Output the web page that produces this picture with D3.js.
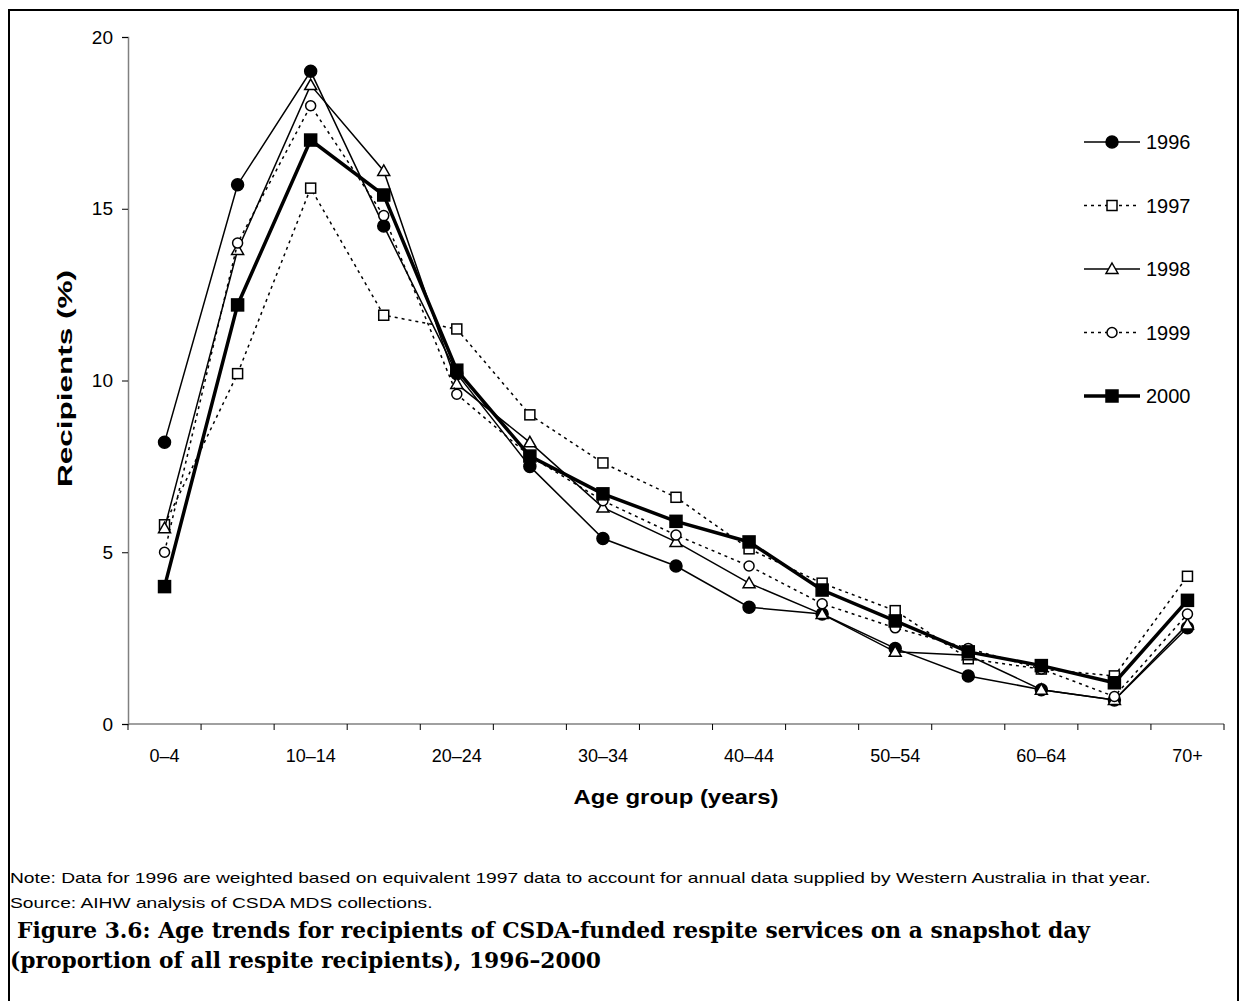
<!DOCTYPE html>
<html>
<head>
<meta charset="utf-8">
<script src="https://cdn.jsdelivr.net/npm/d3@7"></script>
<style>
  html, body { margin: 0; padding: 0; background: #fff; }
  svg { display: block; }
  text { font-family: "Liberation Sans", Arial, sans-serif; fill: #000; }
</style>
</head>
<body>
<svg id="chart" width="1245" height="1001"></svg>
<script>
// ---------- data ----------
const categories = ["0–4","5–9","10–14","15–19","20–24","25–29","30–34","35–39","40–44","45–49","50–54","55–59","60–64","65–69","70+"];
const tickLabels = ["0–4","10–14","20–24","30–34","40–44","50–54","60–64","70+"];
const yTicks = [0, 5, 10, 15, 20];
const seriesNames = ["1996","1997","1998","1999","2000"];
const v1996 = [8.2, 15.7, 19.0, 14.5, 10.2, 7.5, 5.4, 4.6, 3.4, 3.2, 2.2, 1.4, 1.0, 0.7, 2.8];
const v1997 = [5.8, 10.2, 15.6, 11.9, 11.5, 9.0, 7.6, 6.6, 5.1, 4.1, 3.3, 1.9, 1.6, 1.4, 4.3];
const v1998 = [5.7, 13.8, 18.6, 16.1, 9.9, 8.2, 6.3, 5.3, 4.1, 3.2, 2.1, 2.0, 1.0, 0.7, 2.9];
const v1999 = [5.0, 14.0, 18.0, 14.8, 9.6, 7.8, 6.5, 5.5, 4.6, 3.5, 2.8, 2.2, 1.6, 0.8, 3.2];
const v2000 = [4.0, 12.2, 17.0, 15.4, 10.3, 7.8, 6.7, 5.9, 5.3, 3.9, 3.0, 2.1, 1.7, 1.2, 3.6];
const xTitle = "Age group (years)";
const yTitle = "Recipients (%)";
const noteLines = [
  "Note: Data for 1996 are weighted based on equivalent 1997 data to account for annual data supplied by Western Australia in that year.",
  "Source: AIHW analysis of CSDA MDS collections."
];
const captionLines = [
  "Figure 3.6: Age trends for recipients of CSDA-funded respite services on a snapshot day",
  "(proportion of all respite recipients), 1996–2000"
];

// ---------- styles ----------
const styles = {
  "1996": {marker: "circle",   fill: "#000", dash: null,  width: 1.5},
  "1997": {marker: "square",   fill: "#fff", dash: "3,4", width: 1.5},
  "1998": {marker: "triangle", fill: "#fff", dash: null,  width: 1.5},
  "1999": {marker: "circle",   fill: "#fff", dash: "3,4", width: 1.5},
  "2000": {marker: "square",   fill: "#000", dash: null,  width: 3.5}
};
const seriesValues = {"1996": v1996, "1997": v1997, "1998": v1998, "1999": v1999, "2000": v2000};

const svg = d3.select("#chart");
// frame
svg.append("rect").attr("x", 9).attr("y", 10).attr("width", 1229).attr("height", 1010)
  .attr("fill", "none").attr("stroke", "#000").attr("stroke-width", 2);

const pL = 128, pR = 1224, pT = 37, pB = 724;
const x = d3.scaleBand().domain(categories).range([pL, pR]);
const y = d3.scaleLinear().domain([0, 20]).range([pB, pT]);
const cx = c => x(c) + x.bandwidth() / 2;

// stretch a text element horizontally by a factor (reference text is wider than the font's natural width)
function stretch(sel, factor) {
  sel.each(function () {
    const w = this.getComputedTextLength();
    d3.select(this).attr("textLength", w * factor).attr("lengthAdjust", "spacingAndGlyphs");
  });
}

// y axis
const yAxis = svg.append("g").attr("transform", `translate(${pL},0)`)
  .call(d3.axisLeft(y).tickValues(yTicks).tickSize(6).tickPadding(9).tickFormat(d3.format("d")));
yAxis.select(".domain").attr("stroke", "#808080").attr("stroke-width", 1.5);
yAxis.selectAll(".tick line").attr("stroke", "#000");
yAxis.selectAll(".tick text").attr("font-size", 19).attr("font-family", "Liberation Sans, Arial, sans-serif");

// x axis line + ticks at band boundaries
const xg = svg.append("g");
xg.append("line").attr("x1", pL).attr("x2", pR).attr("y1", pB).attr("y2", pB)
  .attr("stroke", "#808080").attr("stroke-width", 1.5);
const bounds = categories.map(c => x(c)).concat([pR]);
xg.selectAll("line.tk").data(bounds).join("line").attr("class", "tk")
  .attr("x1", d => d).attr("x2", d => d).attr("y1", pB).attr("y2", pB + 6)
  .attr("stroke", "#000").attr("stroke-width", 1);
xg.selectAll("text.tl").data(tickLabels).join("text").attr("class", "tl")
  .attr("x", d => cx(d)).attr("y", pB + 38).attr("text-anchor", "middle")
  .attr("font-size", 18).text(d => d);

// axis titles
svg.append("text").attr("x", 676).attr("y", 804).attr("text-anchor", "middle")
  .attr("font-size", 21).attr("font-weight", "bold").text(xTitle)
  .call(stretch, 1.14);
svg.append("text").attr("transform", `translate(72,${(pT + pB) / 2 - 2}) rotate(-90)`)
  .attr("text-anchor", "middle").attr("font-size", 21).attr("font-weight", "bold").text(yTitle)
  .call(stretch, 1.5);

// marker drawing
function drawMarker(g, type, fill, px, py) {
  if (type === "circle") {
    g.append("circle").attr("cx", px).attr("cy", py).attr("r", fill === "#000" ? 6 : 5)
      .attr("fill", fill).attr("stroke", "#000").attr("stroke-width", 1.5);
  } else if (type === "square") {
    const h = fill === "#000" ? 6 : 5;
    g.append("rect").attr("x", px - h).attr("y", py - h).attr("width", 2 * h).attr("height", 2 * h)
      .attr("fill", fill).attr("stroke", "#000").attr("stroke-width", 1.5);
  } else {
    const h = 6;
    g.append("path").attr("d", `M${px},${py - h}L${px + h},${py + h * 0.75}L${px - h},${py + h * 0.75}Z`)
      .attr("fill", fill).attr("stroke", "#000").attr("stroke-width", 1.5);
  }
}

// series
const line = d3.line().x((d, i) => cx(categories[i])).y(d => y(d));
seriesNames.forEach(name => {
  const st = styles[name];
  const vals = seriesValues[name];
  const g = svg.append("g");
  g.append("path").attr("d", line(vals)).attr("fill", "none").attr("stroke", "#000")
    .attr("stroke-width", st.width).attr("stroke-dasharray", st.dash);
  vals.forEach((v, i) => drawMarker(g, st.marker, st.fill, cx(categories[i]), y(v)));
});

// legend
const legY = d3.scalePoint().domain(seriesNames).range([142, 396]);
seriesNames.forEach(name => {
  const st = styles[name];
  const ly = legY(name);
  const g = svg.append("g");
  g.append("line").attr("x1", 1084).attr("x2", 1140).attr("y1", ly).attr("y2", ly)
    .attr("stroke", "#000").attr("stroke-width", st.width).attr("stroke-dasharray", st.dash);
  drawMarker(g, st.marker, st.fill, 1112, ly);
  g.append("text").attr("x", 1146).attr("y", ly + 7).attr("font-size", 20).text(name);
});

// notes
svg.selectAll("text.note").data(noteLines).join("text").attr("class", "note")
  .attr("x", 10).attr("y", (d, i) => 883 + i * 25).attr("font-size", 15).text(d => d)
  .call(stretch, 1.28);

// caption
const caps = svg.selectAll("text.cap").data(captionLines).join("text").attr("class", "cap")
  .attr("x", (d, i) => i === 0 ? 17 : 10).attr("y", (d, i) => 938 + i * 30)
  .attr("font-size", 22).attr("font-weight", "bold")
  .style("font-family", "'DejaVu Serif', serif").text(d => d);
const capW = caps.node().getComputedTextLength();
caps.call(stretch, (1090 - 17) / capW);
</script>
</body>
</html>
